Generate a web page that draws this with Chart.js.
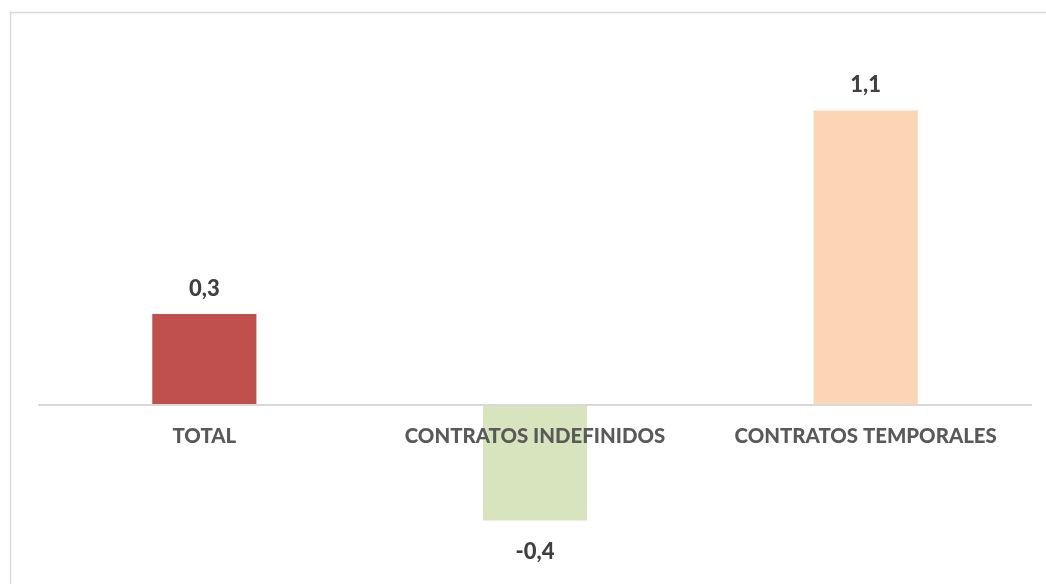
<!DOCTYPE html>
<html>
<head>
<meta charset="utf-8">
<script src="https://cdn.jsdelivr.net/npm/chart.js@4/dist/chart.umd.min.js"></script>
<style>
  html, body { margin: 0; padding: 0; background: #ffffff; }
  #wrap { width: 1046px; height: 584px; position: relative; }
</style>
</head>
<body>
<div id="wrap"><canvas id="chart"></canvas></div>
<script>
// Chart data
const categories = ['TOTAL', 'CONTRATOS INDEFINIDOS', 'CONTRATOS TEMPORALES'];
const values = [0.34, -0.43, 1.1];
const barColors = ['#C0504D', '#D7E4BD', '#FCD5B5'];

// outer frame around the chart (extends past the right / bottom edge)
const framePlugin = {
    id: 'frame',
    beforeDraw(chart) {
        const ctx = chart.ctx;
        ctx.save();
        ctx.strokeStyle = '#d9d9d9';
        ctx.lineWidth = 1.5;
        ctx.strokeRect(10.5, 12.5, 1200, 700);
        ctx.restore();
    }
};

// value labels above positive bars, below negative ones
const valueLabels = {
    id: 'valueLabels',
    afterDatasetsDraw(chart) {
        const ctx = chart.ctx;
        const meta = chart.getDatasetMeta(0);
        ctx.save();
        ctx.font = '900 22px Lato, "Open Sans", sans-serif';
        ctx.fillStyle = '#404040';
        ctx.textAlign = 'center';
        ctx.textBaseline = 'middle';
        meta.data.forEach((bar, i) => {
            const v = values[i];
            const txt = v.toFixed(1).replace('.', ',');
            const y = v >= 0 ? bar.y - 25 : bar.y + 31;
            ctx.fillText(txt, bar.x, y);
        });
        ctx.restore();
    }
};

const ctx = document.getElementById('chart').getContext('2d');
new Chart(ctx, {
    type: 'bar',
    data: {
        labels: categories,
        datasets: [{
            data: values,
            backgroundColor: barColors,
            borderWidth: 0,
            barPercentage: 0.315,
            categoryPercentage: 1
        }]
    },
    options: {
        responsive: true,
        maintainAspectRatio: false,
        animation: false,
        layout: {
            padding: { left: 39, right: 15, top: 30, bottom: 18 }
        },
        plugins: {
            legend: { display: false },
            tooltip: { enabled: false }
        },
        scales: {
            x: {
                position: { y: 0 },
                grid: { display: false, drawTicks: false },
                border: { display: true, color: '#d9d9d9', width: 2, z: 1 },
                ticks: {
                    z: 1,
                    padding: 19,
                    color: '#595959',
                    font: { family: 'Lato, "Open Sans", sans-serif', size: 20.4, weight: 900 }
                }
            },
            y: {
                display: false,
                min: -0.6,
                max: 1.4
            }
        }
    },
    plugins: [framePlugin, valueLabels]
});
</script>
</body>
</html>
